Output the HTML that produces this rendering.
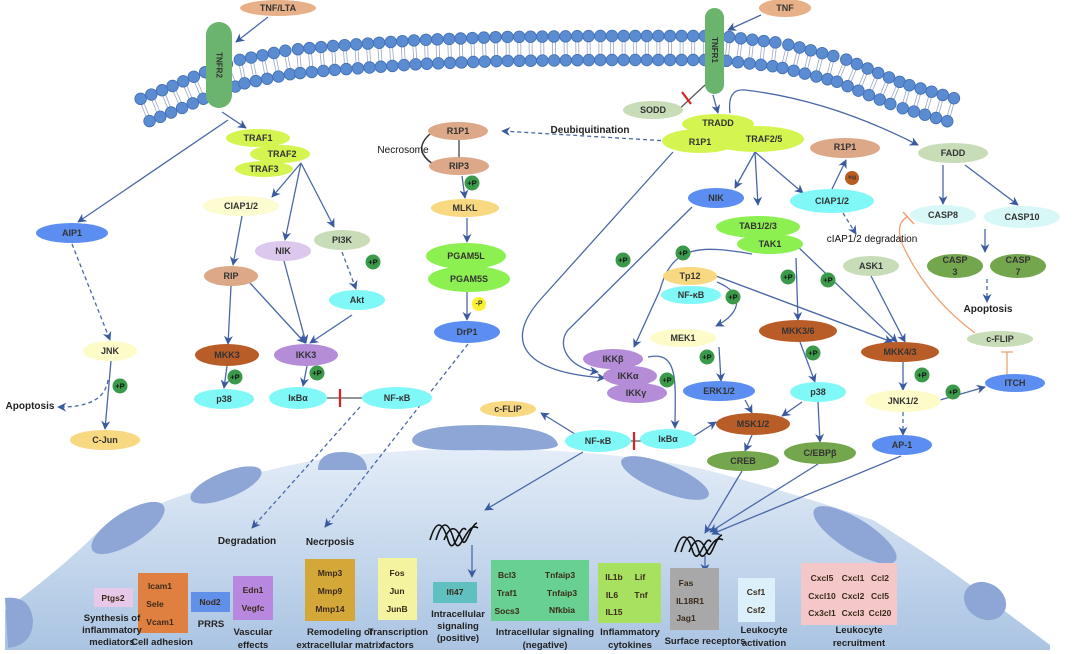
<!DOCTYPE html>
<html><head><meta charset="utf-8"><style>
html,body{margin:0;padding:0;background:#fff;}
svg{display:block;font-family:"Liberation Sans",sans-serif;}
.n{font-size:9px;font-weight:bold;fill:#333;text-anchor:middle;dominant-baseline:central;}
.t{font-size:10px;font-weight:bold;fill:#222;text-anchor:middle;}
.b{font-size:8.5px;font-weight:bold;fill:#3a2a1a;text-anchor:middle;dominant-baseline:central;}
.l{stroke:#4a68a8;stroke-width:1.3;fill:none;}
.d{stroke:#4a68a8;stroke-width:1.3;fill:none;stroke-dasharray:4 3;}
</style></head><body>
<svg id="s" width="1080" height="654" viewBox="0 0 1080 654" xmlns="http://www.w3.org/2000/svg">
<defs>
<marker id="a" viewBox="0 0 10 10" refX="9" refY="5" markerWidth="9" markerHeight="9" orient="auto-start-reverse" markerUnits="userSpaceOnUse">
<path d="M0,0 L10,5 L0,10 L3,5 Z" fill="#3a5aa0"/></marker>
<linearGradient id="g" x1="0" y1="0" x2="0" y2="1"><stop offset="0" stop-color="#e4edf8"/><stop offset="1" stop-color="#aac4e2"/></linearGradient>
</defs>
<path d="M5,650 L5,610 Q60,570 100,530 Q200,480 333,457 Q450,445 540,450 Q640,455 707,470 Q800,495 873,520 Q930,555 973,587 Q1010,615 1050,645 L1050,650 Z" fill="url(#g)"/>
<g fill="#8ea6d6">
<ellipse cx="128" cy="528" rx="42" ry="16" transform="rotate(-32 128 528)"/>
<ellipse cx="226" cy="485" rx="38" ry="13" transform="rotate(-22 226 485)"/>
<path d="M318,470 Q318,452 342,452 Q366,452 367,470 Z"/>
<path d="M412,440 Q415,425 480,425 Q555,426 558,445 Q556,452 480,450 Q412,452 412,440 Z"/>
<ellipse cx="665" cy="478" rx="47" ry="14" transform="rotate(22 665 478)"/>
<ellipse cx="855" cy="535" rx="48" ry="16" transform="rotate(32 855 535)"/>
<ellipse cx="985" cy="601" rx="22" ry="18" transform="rotate(30 985 601)"/>
<path d="M5,598 Q30,595 33,620 Q33,645 8,648 Z"/>
</g>
<g id="mem"></g>
<rect x="206" y="22" width="26" height="86" rx="13" fill="#6bb46e"/>
<text transform="translate(219,65) rotate(90)" class="n" style="font-size:8px">TNFR2</text>
<rect x="705" y="8" width="19" height="86" rx="9.5" fill="#6bb46e"/>
<text transform="translate(714.5,50) rotate(90)" class="n" style="font-size:8px">TNFR1</text>

<g id="lines">
<path class="l" marker-end="url(#a)" d="M268,17 L236,42"/>
<path class="l" marker-end="url(#a)" d="M761,15 L728,30"/>
<path class="l" marker-end="url(#a)" d="M222,112 L246,128"/>
<path class="l" marker-end="url(#a)" d="M228,120 L78,222"/>
<path class="d" marker-end="url(#a)" d="M72,244 L110,340"/>
<path class="l" marker-end="url(#a)" d="M111,361 L105,429"/>
<path class="d" marker-end="url(#a)" d="M108,380 Q104,408 58,407"/>
<path class="l" marker-end="url(#a)" d="M301,163 L272,197"/>
<path class="l" marker-end="url(#a)" d="M301,163 L285,240"/>
<path class="l" marker-end="url(#a)" d="M301,163 L334,227"/>
<path class="l" marker-end="url(#a)" d="M242,216 L233,265"/>
<path class="l" marker-end="url(#a)" d="M231,286 L228,344"/>
<path class="l" marker-end="url(#a)" d="M250,283 L305,343"/>
<path class="l" marker-end="url(#a)" d="M284,261 L306,343"/>
<path class="l" marker-end="url(#a)" d="M352,315 L310,343"/>
<path class="d" marker-end="url(#a)" d="M342,252 L356,289"/>
<path class="l" marker-end="url(#a)" d="M227,366 L224,388"/>
<path class="l" marker-end="url(#a)" d="M307,366 L303,386"/>
<path class="d" marker-end="url(#a)" d="M360,407 L252,528"/>
<path class="d" marker-end="url(#a)" d="M468,344 L325,527"/>
<path d="M459,140 L459,157" stroke="#333" stroke-width="1.2"/>
<path d="M430,134 Q412,150 433,164" stroke="#333" stroke-width="1.5" fill="none"/>
<path class="l" marker-end="url(#a)" d="M462,176 L465,198"/>
<path class="l" marker-end="url(#a)" d="M467,218 L467,242"/>
<path class="l" marker-end="url(#a)" d="M467,292 L467,320"/>
<path class="d" marker-end="url(#a)" d="M668,141 L502,131"/>
<path class="l" marker-end="url(#a)" d="M713,95 L718,113"/>
<path class="l" marker-end="url(#a)" d="M730,113 Q727,88 745,90 Q830,100 918,145"/>
<path class="l" marker-end="url(#a)" d="M673,152 L540,300 C505,340 520,372 605,378"/>
<path class="l" marker-end="url(#a)" d="M692,207 L568,330 C556,345 568,368 598,372"/>
<path class="l" marker-end="url(#a)" d="M752,254 C700,245 672,245 660,290 L634,347"/>
<path class="l" marker-end="url(#a)" d="M755,152 L735,188"/>
<path class="l" marker-end="url(#a)" d="M755,152 L758,205"/>
<path class="l" marker-end="url(#a)" d="M755,152 L803,193"/>
<path class="l" marker-end="url(#a)" d="M832,189 L846,160"/>
<path class="d" marker-end="url(#a)" d="M843,213 L856,234"/>
<path class="l" marker-end="url(#a)" d="M943,165 L943,204"/>
<path class="l" marker-end="url(#a)" d="M965,165 L1018,205"/>
<path class="l" marker-end="url(#a)" d="M985,229 L985,252"/>
<path class="d" marker-end="url(#a)" d="M987,279 L987,302"/>
<path d="M907,217 Q893,225 905,250 Q930,300 975,333" stroke="#f0a070" stroke-width="1.3" fill="none"/>
<path d="M903,212 L914,224" stroke="#f0a070" stroke-width="1.5"/>
<path d="M1007,375 L1007,352 M1001,352 L1013,352" stroke="#f0a070" stroke-width="1.3" fill="none"/>
<path class="l" marker-end="url(#a)" d="M796,258 L798,320"/>
<path class="l" marker-end="url(#a)" d="M795,244 L897,342"/>
<path class="l" marker-end="url(#a)" d="M716,276 L892,342"/>
<path class="l" marker-end="url(#a)" d="M871,276 L905,342"/>
<path class="l" marker-end="url(#a)" d="M717,282 C748,295 738,315 716,326"/>
<path class="l" marker-end="url(#a)" d="M800,342 L815,382"/>
<path class="l" marker-end="url(#a)" d="M719,347 L721,381"/>
<path class="l" marker-end="url(#a)" d="M745,400 L752,413"/>
<path class="l" marker-end="url(#a)" d="M802,402 L782,416"/>
<path class="l" marker-end="url(#a)" d="M818,402 L820,442"/>
<path class="l" marker-end="url(#a)" d="M648,357 C680,350 675,385 675,428"/>
<path class="l" marker-end="url(#a)" d="M694,436 L716,422"/>
<path class="l" marker-end="url(#a)" d="M752,435 L745,451"/>
<path class="l" marker-end="url(#a)" d="M903,362 L903,390"/>
<path class="l" marker-end="url(#a)" d="M940,400 L985,387"/>
<path class="d" marker-end="url(#a)" d="M903,412 L903,435"/>
<path class="l" marker-end="url(#a)" d="M575,434 L541,413"/>
<path class="l" marker-end="url(#a)" d="M583,452 L485,510"/>
<path class="l" marker-end="url(#a)" d="M472,545 L472,577"/>
<path class="l" marker-end="url(#a)" d="M742,471 L705,533"/>
<path class="l" marker-end="url(#a)" d="M818,464 L710,532"/>
<path class="l" marker-end="url(#a)" d="M901,456 L712,534"/>
<path class="l" marker-end="url(#a)" d="M705,556 L705,572"/>
<path d="M327,398 L365,398" stroke="#555" stroke-width="1.2"/><path d="M340,389 L340,407" stroke="#e02020" stroke-width="2.2"/>
<path d="M627,441 L642,441" stroke="#555" stroke-width="1.2"/><path d="M634,432 L634,450" stroke="#e02020" stroke-width="2.2"/>
<path d="M675,113 L705,85" stroke="#555" stroke-width="1.2"/><path d="M682,92 L691,104" stroke="#e02020" stroke-width="2.2"/>
</g>

<g id="nodes">
<ellipse cx="278" cy="8" rx="38" ry="8" fill="#e8b088"/><text x="278" y="8" class="n">TNF/LTA</text>
<ellipse cx="785" cy="8" rx="26" ry="9" fill="#e8b088"/><text x="785" y="8" class="n">TNF</text>
<ellipse cx="653" cy="110" rx="30" ry="9" fill="#c8dcb8"/><text x="653" y="110" class="n">SODD</text>
<ellipse cx="718" cy="124" rx="36" ry="10" fill="#d4f550"/>
<ellipse cx="700" cy="141" rx="38" ry="12" fill="#d4f550"/>
<ellipse cx="756" cy="139" rx="48" ry="13" fill="#d4f550"/>
<text x="718" y="123" class="n">TRADD</text><text x="700" y="142" class="n">R1P1</text><text x="764" y="139" class="n">TRAF2/5</text>
<text x="590" y="133" class="t">Deubiquitination</text>
<ellipse cx="953" cy="153" rx="35" ry="10" fill="#c8dcb8"/><text x="953" y="153" class="n">FADD</text>
<ellipse cx="943" cy="215" rx="33" ry="10" fill="#d8f8f8"/><text x="943" y="215" class="n">CASP8</text>
<ellipse cx="1022" cy="217" rx="38" ry="11" fill="#d8f8f8"/><text x="1022" y="217" class="n">CASP10</text>
<ellipse cx="955" cy="266" rx="28" ry="12" fill="#74a64e"/><text x="955" y="260" class="n">CASP</text><text x="955" y="272" class="n">3</text>
<ellipse cx="1018" cy="266" rx="28" ry="12" fill="#74a64e"/><text x="1018" y="260" class="n">CASP</text><text x="1018" y="272" class="n">7</text>
<text x="988" y="312" class="t">Apoptosis</text>
<ellipse cx="1000" cy="339" rx="33" ry="8" fill="#c8dcb8"/><text x="1000" y="339" class="n">c-FLIP</text>
<ellipse cx="1015" cy="383" rx="30" ry="9" fill="#5b8ef0"/><text x="1015" y="383" class="n">ITCH</text>
<ellipse cx="845" cy="148" rx="35" ry="10" fill="#dca888"/><text x="845" y="147" class="n">R1P1</text>
<circle cx="852" cy="178" r="7" fill="#b85c20"/><text x="852" y="178" class="n" style="font-size:7px">+u</text>
<ellipse cx="832" cy="201" rx="42" ry="12" fill="#80f8f8"/><text x="832" y="201" class="n">CIAP1/2</text>
<text x="872" y="242" class="t" style="font-weight:normal;fill:#111">cIAP1/2 degradation</text>
<ellipse cx="716" cy="198" rx="28" ry="10" fill="#5b8ef0"/><text x="716" y="198" class="n">NIK</text>
<ellipse cx="758" cy="227" rx="42" ry="11" fill="#8cf050"/>
<ellipse cx="770" cy="244" rx="33" ry="10" fill="#8cf050"/>
<text x="758" y="226" class="n">TAB1/2/3</text><text x="770" y="244" class="n">TAK1</text>
<ellipse cx="871" cy="266" rx="28" ry="10" fill="#c8dcb8"/><text x="871" y="266" class="n">ASK1</text>
<ellipse cx="690" cy="276" rx="27" ry="9" fill="#f8d880"/><text x="690" y="276" class="n">Tp12</text>
<ellipse cx="691" cy="295" rx="30" ry="9" fill="#80f8f8"/><text x="691" y="295" class="n">NF-κB</text>
<ellipse cx="683" cy="338" rx="33" ry="9" fill="#fdfbc8"/><text x="683" y="338" class="n">MEK1</text>
<ellipse cx="798" cy="331" rx="39" ry="11" fill="#b85c28"/><text x="798" y="331" class="n">MKK3/6</text>
<ellipse cx="900" cy="352" rx="39" ry="10" fill="#b85c28"/><text x="900" y="352" class="n">MKK4/3</text>
<ellipse cx="613" cy="359" rx="30" ry="10" fill="#b48cd8"/>
<ellipse cx="630" cy="376" rx="27" ry="10" fill="#b48cd8"/>
<ellipse cx="637" cy="393" rx="30" ry="10" fill="#b48cd8"/>
<text x="613" y="359" class="n">IKKβ</text><text x="628" y="376" class="n">IKKα</text><text x="636" y="393" class="n">IKKγ</text>
<ellipse cx="719" cy="391" rx="36" ry="10" fill="#5b8ef0"/><text x="719" y="391" class="n">ERK1/2</text>
<ellipse cx="818" cy="392" rx="28" ry="10" fill="#80f8f8"/><text x="818" y="392" class="n">p38</text>
<ellipse cx="903" cy="401" rx="38" ry="11" fill="#fdfbc8"/><text x="903" y="401" class="n">JNK1/2</text>
<ellipse cx="753" cy="424" rx="37" ry="11" fill="#b85c28"/><text x="753" y="424" class="n">MSK1/2</text>
<ellipse cx="598" cy="441" rx="33" ry="11" fill="#80f8f8"/><text x="598" y="441" class="n">NF-κB</text>
<ellipse cx="668" cy="439" rx="28" ry="10" fill="#80f8f8"/><text x="668" y="439" class="n">IκBα</text>
<ellipse cx="508" cy="409" rx="28" ry="8" fill="#f8d880"/><text x="508" y="409" class="n">c-FLIP</text>
<ellipse cx="743" cy="461" rx="36" ry="10" fill="#74a64e"/><text x="743" y="461" class="n">CREB</text>
<ellipse cx="820" cy="453" rx="36" ry="11" fill="#74a64e"/><text x="820" y="453" class="n">C/EBPβ</text>
<ellipse cx="902" cy="445" rx="30" ry="10" fill="#5b8ef0"/><text x="902" y="445" class="n">AP-1</text>

<ellipse cx="258" cy="138" rx="32" ry="9" fill="#d4f550"/>
<ellipse cx="280" cy="154" rx="30" ry="9" fill="#d4f550"/>
<ellipse cx="264" cy="169" rx="29" ry="8" fill="#d4f550"/>
<text x="258" y="138" class="n">TRAF1</text><text x="282" y="154" class="n">TRAF2</text><text x="264" y="169" class="n">TRAF3</text>
<ellipse cx="241" cy="206" rx="38" ry="10" fill="#fdfbd0"/><text x="241" y="206" class="n">CIAP1/2</text>
<ellipse cx="283" cy="251" rx="28" ry="10" fill="#dcc8ec"/><text x="283" y="251" class="n">NIK</text>
<ellipse cx="342" cy="240" rx="28" ry="10" fill="#c8dcb8"/><text x="342" y="240" class="n">PI3K</text>
<ellipse cx="357" cy="300" rx="28" ry="10" fill="#80f8f8"/><text x="357" y="300" class="n">Akt</text>
<ellipse cx="231" cy="276" rx="27" ry="10" fill="#dca888"/><text x="231" y="276" class="n">RIP</text>
<ellipse cx="72" cy="233" rx="36" ry="10" fill="#5b8ef0"/><text x="72" y="233" class="n">AIP1</text>
<ellipse cx="110" cy="351" rx="27" ry="10" fill="#fdfbc8"/><text x="110" y="351" class="n">JNK</text>
<text x="30" y="409" class="t">Apoptosis</text>
<ellipse cx="105" cy="440" rx="35" ry="10" fill="#f8d880"/><text x="105" y="440" class="n">C-Jun</text>
<ellipse cx="227" cy="355" rx="32" ry="11" fill="#b85c28"/><text x="227" y="355" class="n">MKK3</text>
<ellipse cx="224" cy="399" rx="30" ry="10" fill="#80f8f8"/><text x="224" y="399" class="n">p38</text>
<ellipse cx="306" cy="355" rx="32" ry="11" fill="#b48cd8"/><text x="306" y="355" class="n">IKK3</text>
<ellipse cx="298" cy="398" rx="29" ry="11" fill="#80f8f8"/><text x="298" y="398" class="n">IκBα</text>
<ellipse cx="397" cy="398" rx="35" ry="11" fill="#80f8f8"/><text x="397" y="398" class="n">NF-κB</text>
<ellipse cx="458" cy="131" rx="30" ry="9" fill="#dca888"/><text x="458" y="131" class="n">R1P1</text>
<ellipse cx="459" cy="166" rx="30" ry="9" fill="#dca888"/><text x="459" y="166" class="n">RIP3</text>
<text x="403" y="153" class="t" style="font-weight:normal;fill:#111">Necrosome</text>
<ellipse cx="465" cy="208" rx="34" ry="9" fill="#f8d880"/><text x="465" y="208" class="n">MLKL</text>
<ellipse cx="466" cy="256" rx="40" ry="13" fill="#8cf050"/>
<ellipse cx="469" cy="279" rx="41" ry="13" fill="#8cf050"/>
<text x="466" y="256" class="n">PGAM5L</text><text x="469" y="279" class="n">PGAM5S</text>
<circle cx="479" cy="304" r="7" fill="#f8f030"/><text x="479" y="304" class="n" style="font-size:7px">-P</text>
<ellipse cx="467" cy="332" rx="33" ry="11" fill="#5b8ef0"/><text x="467" y="332" class="n">DrP1</text>
</g>

<g id="plus"></g>

<text x="247" y="544" class="t">Degradation</text>
<text x="330" y="545" class="t">Necrposis</text>
<g stroke="#111" stroke-width="1.6" fill="none">
<path d="M430,540 C436,520 442,520 448,540 C454,560 460,520 466,530 M436,540 C442,520 448,520 454,540 C460,560 466,520 478,528 M444,540 C450,525 456,525 462,540 C466,550 470,525 477,523"/>
<path d="M675,552 C681,532 687,532 693,552 C699,568 705,532 711,542 M681,552 C687,532 693,532 699,552 C705,568 711,532 723,540 M689,552 C695,537 701,537 707,552 C711,562 715,537 722,535"/>
</g>

<rect x="94" y="588" width="39" height="19" fill="#e8c8e8"/><text x="113" y="598" class="b">Ptgs2</text>
<rect x="138" y="573" width="50" height="60" fill="#e08040"/><text x="160" y="586" class="b">Icam1</text><text x="155" y="604" class="b">Sele</text><text x="160" y="622" class="b">Vcam1</text>
<rect x="191" y="592" width="39" height="20" fill="#6090e8"/><text x="210" y="602" class="b">Nod2</text>
<rect x="233" y="576" width="40" height="44" fill="#b888e0"/><text x="253" y="590" class="b">Edn1</text><text x="253" y="608" class="b">Vegfc</text>
<rect x="305" y="559" width="50" height="62" fill="#d4a838"/><text x="330" y="573" class="b">Mmp3</text><text x="330" y="591" class="b">Mmp9</text><text x="330" y="609" class="b">Mmp14</text>
<rect x="378" y="558" width="39" height="62" fill="#f4f4a0"/><text x="397" y="573" class="b">Fos</text><text x="397" y="591" class="b">Jun</text><text x="397" y="609" class="b">JunB</text>
<rect x="433" y="582" width="44" height="21" fill="#60c0c0"/><text x="455" y="592" class="b">Ifi47</text>
<rect x="491" y="560" width="98" height="61" fill="#68d090"/><text x="507" y="575" class="b">Bcl3</text><text x="507" y="593" class="b">Traf1</text><text x="507" y="611" class="b">Socs3</text><text x="560" y="575" class="b">Tnfaip3</text><text x="562" y="593" class="b">Tnfaip3</text><text x="562" y="610" class="b">Nfkbia</text>
<rect x="598" y="563" width="63" height="60" fill="#a8e060"/><text x="614" y="577" class="b">IL1b</text><text x="640" y="577" class="b">Lif</text><text x="612" y="595" class="b">IL6</text><text x="641" y="595" class="b">Tnf</text><text x="614" y="612" class="b">IL15</text>
<rect x="670" y="568" width="49" height="62" fill="#a8a8a8"/><text x="686" y="583" class="b">Fas</text><text x="690" y="601" class="b">IL18R1</text><text x="686" y="618" class="b">Jag1</text>
<rect x="738" y="578" width="37" height="44" fill="#dcf0fc"/><text x="756" y="592" class="b">Csf1</text><text x="756" y="610" class="b">Csf2</text>
<rect x="801" y="563" width="96" height="62" fill="#f4c8c8"/>
<text x="822" y="578" class="b">Cxcl5</text><text x="853" y="578" class="b">Cxcl1</text><text x="880" y="578" class="b">Ccl2</text>
<text x="822" y="596" class="b">Cxcl10</text><text x="853" y="596" class="b">Cxcl2</text><text x="880" y="596" class="b">Ccl5</text>
<text x="822" y="613" class="b">Cx3cl1</text><text x="853" y="613" class="b">Cxcl3</text><text x="880" y="613" class="b">Ccl20</text>
<g>
<text x="112" y="621" class="t" style="font-size:9.5px">Synthesis of</text>
<text x="112" y="633" class="t" style="font-size:9.5px">inflammatory</text>
<text x="112" y="645" class="t" style="font-size:9.5px">mediators</text>
<text x="162" y="645" class="t" style="font-size:9.5px">Cell adhesion</text>
<text x="211" y="627" class="t" style="font-size:9.5px">PRRS</text>
<text x="253" y="635" class="t" style="font-size:9.5px">Vascular</text>
<text x="253" y="648" class="t" style="font-size:9.5px">effects</text>
<text x="340" y="635" class="t" style="font-size:9.5px">Remodeling of</text>
<text x="340" y="648" class="t" style="font-size:9.5px">extracellular matrix</text>
<text x="398" y="635" class="t" style="font-size:9.5px">Transcription</text>
<text x="398" y="648" class="t" style="font-size:9.5px">factors</text>
<text x="458" y="617" class="t" style="font-size:9.5px">Intracellular</text>
<text x="458" y="629" class="t" style="font-size:9.5px">signaling</text>
<text x="458" y="641" class="t" style="font-size:9.5px">(positive)</text>
<text x="545" y="635" class="t" style="font-size:9.5px">Intracellular signaling</text>
<text x="545" y="648" class="t" style="font-size:9.5px">(negative)</text>
<text x="630" y="635" class="t" style="font-size:9.5px">Inflammatory</text>
<text x="630" y="648" class="t" style="font-size:9.5px">cytokines</text>
<text x="705" y="644" class="t" style="font-size:9.5px">Surface receptors</text>
<text x="764" y="633" class="t" style="font-size:9.5px">Leukocyte</text>
<text x="764" y="646" class="t" style="font-size:9.5px">activation</text>
<text x="859" y="633" class="t" style="font-size:9.5px">Leukocyte</text>
<text x="859" y="646" class="t" style="font-size:9.5px">recruitment</text>
</g>
</svg>
<script>
(function(){
var pts=[[145,110],[175,98],[205,85],[240,72],[290,62],[333,58],[420,52],[500,49],[600,48],[720,48],[780,55],[840,70],[900,95],[955,111]];
var g=document.getElementById("mem");
var dense=[];
for(var i=0;i<pts.length-1;i++){for(var t=0;t<300;t++){var u=t/300;dense.push([pts[i][0]+(pts[i+1][0]-pts[i][0])*u,pts[i][1]+(pts[i+1][1]-pts[i][1])*u]);}}
dense.push(pts[pts.length-1]);
var acc=0,next=0,s="",tails="";
for(var k=1;k<dense.length;k++){
 var dx=dense[k][0]-dense[k-1][0],dy=dense[k][1]-dense[k-1][1],L=Math.sqrt(dx*dx+dy*dy);
 if(L===0)continue;
 acc+=L;
 if(acc>=next){
  var nx=-dy/L,ny=dx/L,x=dense[k][0],y=dense[k][1],tx=dx/L,ty=dy/L;
  tails+='<line x1="'+(x-nx*7+tx*1.5)+'" y1="'+(y-ny*7+ty*1.5)+'" x2="'+(x+nx*7+tx*1.5)+'" y2="'+(y+ny*7+ty*1.5)+'" stroke="#9aa8c8" stroke-width="0.8"/>';
  tails+='<line x1="'+(x-nx*7-tx*1.5)+'" y1="'+(y-ny*7-ty*1.5)+'" x2="'+(x+nx*7-tx*1.5)+'" y2="'+(y+ny*7-ty*1.5)+'" stroke="#9aa8c8" stroke-width="0.8"/>';
  s+='<circle cx="'+(x-nx*12)+'" cy="'+(y-ny*12)+'" r="5.8" fill="#5b8bd0" stroke="#3f6db2" stroke-width="0.8"/>';
  s+='<circle cx="'+(x+nx*12)+'" cy="'+(y+ny*12)+'" r="5.8" fill="#5b8bd0" stroke="#3f6db2" stroke-width="0.8"/>';
  next+=11.6;
 }
}
g.innerHTML=tails+s;
var P=[[472,183],[373,262],[120,386],[235,377],[317,373],[623,260],[683,253],[733,297],[788,277],[828,280],[707,357],[813,353],[922,375],[953,392],[667,380]];
var ps=document.getElementById("plus"),h="";
P.forEach(function(p){h+='<circle cx="'+p[0]+'" cy="'+p[1]+'" r="7.5" fill="#3a9a4a"/><text x="'+p[0]+'" y="'+p[1]+'" class="n" style="font-size:7.5px;fill:#111">+P</text>';});
ps.innerHTML=h;
})();
</script>
</body></html>
